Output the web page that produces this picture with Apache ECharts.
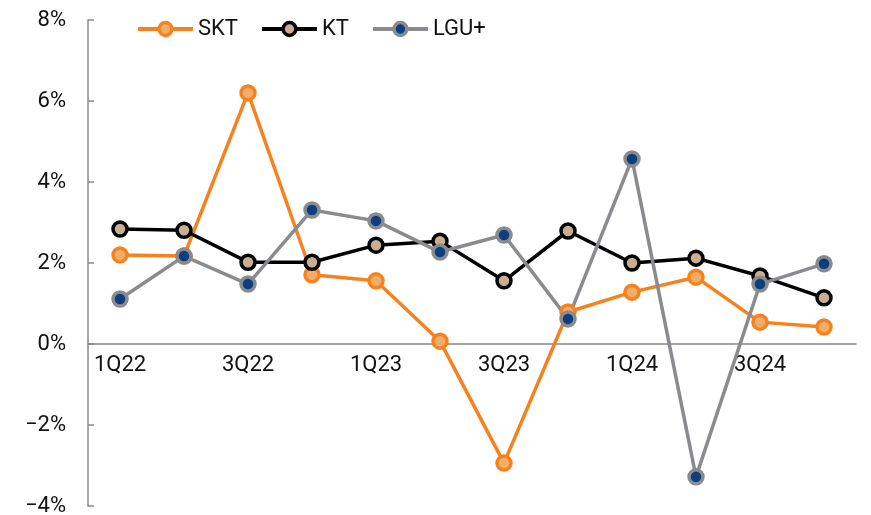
<!DOCTYPE html>
<html><head><meta charset="utf-8">
<script src="https://cdn.jsdelivr.net/npm/echarts@6/dist/echarts.min.js"></script>
<style>html,body{margin:0;padding:0;background:#fff}#c{width:871px;height:515px}</style>
</head><body><div id="c"></div>
<script>
const categories = ['1Q22','2Q22','3Q22','4Q22','1Q23','2Q23','3Q23','4Q23','1Q24','2Q24','3Q24','4Q24'];
const skt = [2.20, 2.17, 6.20, 1.71, 1.56, 0.07, -2.94, 0.79, 1.28, 1.65, 0.54, 0.42];
const kt  = [2.84, 2.81, 2.02, 2.02, 2.44, 2.54, 1.56, 2.79, 2.00, 2.12, 1.68, 1.14];
const lgu = [1.11, 2.17, 1.48, 3.31, 3.04, 2.27, 2.69, 0.62, 4.57, -3.28, 1.48, 1.98];
const yTicks = [-4, -2, 0, 2, 4, 6, 8];

const font = 'Roboto, "Liberation Sans", sans-serif';
function mk(name, data, line, fill) {
  return {
    name, type: 'line', data,
    symbol: 'circle', symbolSize: 14,
    lineStyle: { color: line, width: 3.5 },
    itemStyle: { color: fill, borderColor: line, borderWidth: 3.5 },
    emphasis: { disabled: true },
    z: 3
  };
}
const yMin = yTicks[0], yMax = yTicks[yTicks.length - 1];
const gridTop = 20, gridBottom = 9, H = 515;
const plotH = H - gridTop - gridBottom;
const zeroOffset = plotH * (0 - yMin) / (yMax - yMin);

const chart = echarts.init(document.getElementById('c'));
chart.setOption({
  animation: false,
  grid: { left: 88, right: 15, top: gridTop, bottom: gridBottom, outerBoundsMode: 'none', containLabel: false },
  legend: {
    top: 13, left: 131, itemWidth: 55, itemHeight: 16, itemGap: 22,
    textStyle: { fontSize: 22, color: '#111', fontFamily: font },
    lineStyle: { width: 4 },
    itemStyle: { borderWidth: 3.5 },
    data: ['SKT', 'KT', 'LGU+']
  },
  xAxis: {
    type: 'category', data: categories, boundaryGap: true,
    offset: -zeroOffset,
    axisLine: { onZero: false, lineStyle: { color: '#888', width: 1.5 } },
    axisTick: { inside: true, length: 6, lineStyle: { color: '#888', width: 1.5 } },
    axisLabel: { interval: 1, fontSize: 22, color: '#111', fontFamily: font, margin: 10 }
  },
  yAxis: {
    type: 'value', min: yMin, max: yMax, interval: 2,
    splitLine: { show: false },
    axisLine: { show: true, lineStyle: { color: '#888', width: 1.5 } },
    axisTick: { show: true, inside: true, length: 6, lineStyle: { color: '#888', width: 1.5 } },
    axisLabel: {
      fontSize: 22, color: '#111', fontFamily: font, margin: 22,
      formatter: v => (v < 0 ? '\u2212' : '') + Math.abs(v) + '%'
    }
  },
  series: [
    mk('SKT', skt, '#F5821F', '#F0AE6A'),
    mk('KT', kt, '#000000', '#C9AE92'),
    mk('LGU+', lgu, '#898B8E', '#0B3F7F')
  ]
});
</script></body></html>
